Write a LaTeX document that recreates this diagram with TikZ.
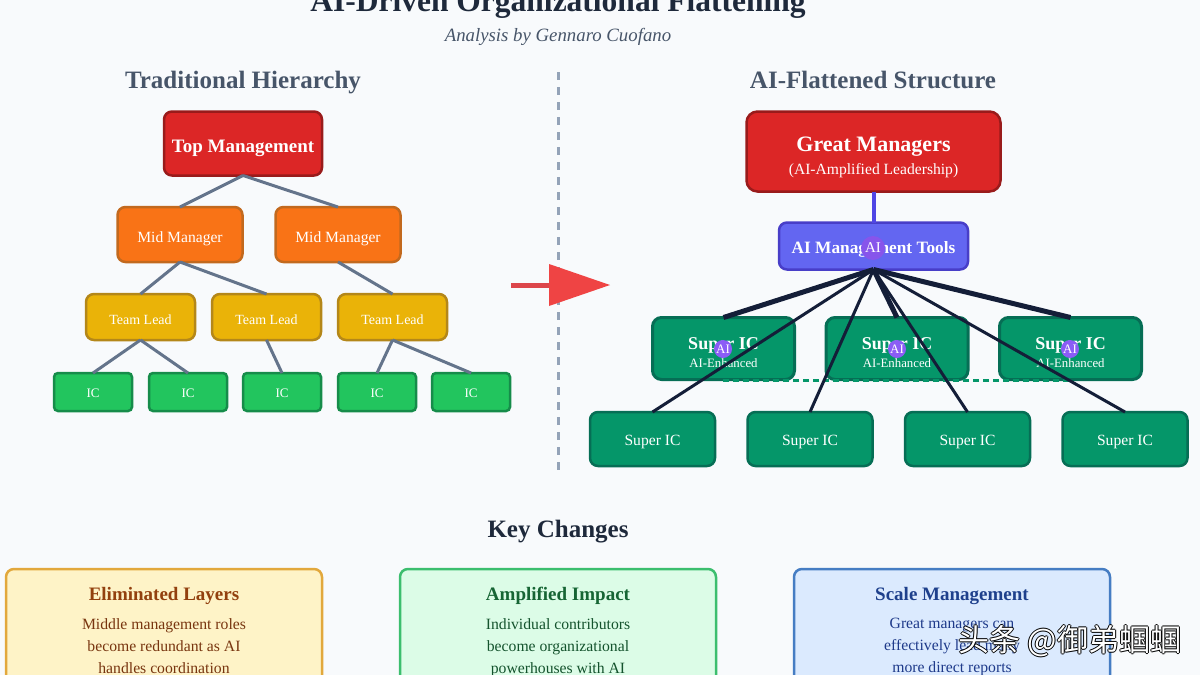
\documentclass[tikz,border=0pt]{standalone}
\usepackage{fontspec}
\setmainfont{Liberation Serif}
\newfontfamily\cjk{Noto Sans CJK SC}
\usetikzlibrary{positioning, shapes.geometric}

\definecolor{pagebg}{HTML}{F8FAFC}
\definecolor{inkdark}{HTML}{1E293B}
\definecolor{inkgray}{HTML}{475569}
\definecolor{linkgray}{HTML}{64748B}
\definecolor{linkdark}{HTML}{141E38}
\newcommand{\pxfont}[1]{\fontsize{#1}{#1}\selectfont}

\begin{document}
\begin{tikzpicture}[
  x=1pt, y=-1pt,
  box/.style={rectangle, draw, rounded corners=8pt, line width=2.5pt, outer sep=0pt, inner sep=0pt, align=center, text=white},
  topbox/.style={box, fill={rgb,255:red,220;green,38;blue,38}, draw={rgb,255:red,153;green,27;blue,27}},
  midbox/.style={box, minimum width=125pt, minimum height=55pt, text height=15pt, text depth=0pt, fill={rgb,255:red,249;green,115;blue,22}, draw={rgb,255:red,194;green,105;blue,30}, font=\pxfont{15.6}},
  leadbox/.style={box, minimum width=109pt, minimum height=46pt, text height=14pt, text depth=0pt, fill={rgb,255:red,234;green,179;blue,8}, draw={rgb,255:red,180;green,135;blue,25}, font=\pxfont{14}},
  icbox/.style={box, rounded corners=4pt, minimum width=78pt, minimum height=38pt, text height=11pt, text depth=0pt, fill={rgb,255:red,34;green,197;blue,94}, draw={rgb,255:red,22;green,140;blue,74}, font=\pxfont{13}},
  superbox/.style={box, rounded corners=9pt, line width=3pt, minimum width=142pt, minimum height=62pt, fill={rgb,255:red,5;green,150;blue,105}, draw={rgb,255:red,6;green,110;blue,85}},
  lowbox/.style={box, minimum width=125pt, minimum height=54pt, text height=13.5pt, text depth=0pt, fill={rgb,255:red,5;green,150;blue,105}, draw={rgb,255:red,6;green,110;blue,85}, font=\pxfont{15.6}},
  card/.style={rectangle, draw, rounded corners=8pt, line width=2.5pt, outer sep=0pt, minimum width=316pt, minimum height=130pt},
  badge/.style={circle, fill={rgb,255:red,139;green,92;blue,246}, minimum size=18pt, inner sep=0pt, text=white, font=\pxfont{13}},
  link/.style={draw=linkgray, line width=3pt},
  wide/.style={draw=linkdark, line width=5pt},
  narrow/.style={draw=linkdark, line width=3pt},
  heading/.style={text=inkgray, anchor=base, font=\pxfont{25}\bfseries},
  cardhead/.style={anchor=base, font=\pxfont{19}\bfseries},
  cardbody/.style={font=\pxfont{15.7}, align=center, anchor=north}
]
  \clip (0,0) rectangle (1200,675);
  \fill[pagebg] (0,0) rectangle (1200,675);

  % title block
  \node[text=inkdark, anchor=base, font=\pxfont{31.5}\bfseries] (title) at (558,11) {AI-Driven Organizational Flattening};
  \node[text=inkgray, anchor=base, font=\pxfont{18.8}\itshape] (subtitle) at (558,41) {Analysis by Gennaro Cuofano};
  \node[heading] (lefthead) at (243,88) {Traditional Hierarchy};
  \node[heading] (righthead) at (873,88) {AI-Flattened Structure};

  % divider and arrow
  \coordinate (divtop) at (558,72);
  \coordinate (divbot) at (558,475);
  \draw[draw={rgb,255:red,148;green,163;blue,184}, line width=3pt, dash pattern=on 8pt off 7pt] (divtop) -- (divbot);
  \coordinate (arrowtail) at (511,285);
  \coordinate (arrowbase) at (550,285);
  \draw[draw={rgb,255:red,220;green,70;blue,75}, line width=5pt] (arrowtail) -- (arrowbase);
  \fill[fill={rgb,255:red,239;green,68;blue,68}] (549,264) -- (610,285) -- (549,306) -- cycle;

  % traditional side
  \node[topbox, minimum width=158pt, minimum height=64pt, text height=17pt, text depth=0pt, font=\pxfont{19}\bfseries] (top) at (243,143.5) {Top Management};
  \foreach \name/\xpos in {midA/180, midB/338}
    \node[midbox] (\name) at (\xpos,234.5) {Mid Manager};
  \foreach \name/\xpos in {leadA/140.5, leadB/266.5, leadC/392.5}
    \node[leadbox] (\name) at (\xpos,317) {Team Lead};
  \foreach \name/\xpos in {icA/93, icB/188, icC/282, icD/377, icE/471}
    \node[icbox] (\name) at (\xpos,392) {IC};
  \foreach \from/\to in {top/midA, top/midB, midA/leadA, midA/leadB, midB/leadC,
                         leadA/icA, leadA/icB, leadB/icC, leadC/icD, leadC/icE}
    \draw[link] (\from.south) -- (\to.north);

  % flattened side
  \node[topbox, rounded corners=11pt, minimum width=254pt, minimum height=80pt] (great) at (873.5,151.5)
    {\pxfont{22}\bfseries\rule{0pt}{27pt}Great Managers\\[6pt]\pxfont{15.6}(AI-Amplified Leadership)};
  \node[box, minimum width=189pt, minimum height=47pt, text height=14.5pt, text depth=0pt, fill={rgb,255:red,99;green,102;blue,241}, draw={rgb,255:red,72;green,62;blue,200}, font=\pxfont{17.3}\bfseries] (tools) at (873.5,246) {AI Management Tools};
  \draw[draw={rgb,255:red,79;green,70;blue,229}, line width=4pt] (great.south) -- (tools.north);
  \foreach \name/\xpos in {supA/723.5, supB/897, supC/1070.5}
    \node[superbox] (\name) at (\xpos,348.5)
      {\pxfont{18}\bfseries\rule{0pt}{20pt}Super IC\\[4pt]\pxfont{12.8}AI-Enhanced};
  \foreach \name/\xpos in {lowA/652.5, lowB/810, lowC/967.5, lowD/1125}
    \node[lowbox] (\name) at (\xpos,439) {Super IC};
  \coordinate (peerleft) at (723,380);
  \coordinate (peerright) at (1070,380);
  \draw[draw={rgb,255:red,5;green,150;blue,105}, line width=3pt, dash pattern=on 6pt off 4pt] (peerleft) -- (peerright);
  \foreach \to in {supA, supB, supC}
    \draw[wide] (tools.south) -- (\to.north);
  \foreach \to in {lowA, lowB, lowC, lowD}
    \draw[narrow] (tools.south) -- (\to.north);
  \node[badge, minimum size=24pt, fill={rgb,255:red,135;green,85;blue,235}, font=\pxfont{15}] (badgeT) at (873,248) {AI};
  \node[badge] (badgeA) at (723,349) {AI};
  \node[badge] (badgeB) at (897,349) {AI};
  \node[badge] (badgeC) at (1070,349) {AI};

  % key changes
  \node[text=inkdark, anchor=base, font=\pxfont{25}\bfseries] (keyhead) at (558,537.5) {Key Changes};
  \node[card, fill={rgb,255:red,254;green,243;blue,199}, draw={rgb,255:red,226;green,168;blue,60}, anchor=north west] (cardA) at (6,569) {};
  \node[card, fill={rgb,255:red,220;green,252;blue,231}, draw={rgb,255:red,60;green,190;blue,110}, anchor=north west] (cardB) at (400,569) {};
  \node[card, fill={rgb,255:red,219;green,234;blue,254}, draw={rgb,255:red,70;green,125;blue,195}, anchor=north west] (cardC) at (794,569) {};
  \node[cardhead, text={rgb,255:red,146;green,64;blue,14}] (cardAhead) at (164,600) {Eliminated Layers};
  \node[cardhead, text={rgb,255:red,22;green,101;blue,52}] (cardBhead) at (558,600) {Amplified Impact};
  \node[cardhead, text={rgb,255:red,30;green,64;blue,140}] (cardChead) at (952,600) {Scale Management};
  \node[cardbody, text={rgb,255:red,120;green,53;blue,15}] (cardAtext) at (164,615)
    {Middle management roles\\[6.3pt]become redundant as AI\\[6.3pt]handles coordination};
  \node[cardbody, text={rgb,255:red,20;green,83;blue,45}] (cardBtext) at (558,615)
    {Individual contributors\\[6.3pt]become organizational\\[6.3pt]powerhouses with AI};
  \node[cardbody, text={rgb,255:red,30;green,58;blue,138}] (cardCtext) at (952,615)
    {Great managers can\\[6.3pt]effectively lead many\\[6.3pt]more direct reports};

  % watermark
  \foreach \i/\dx/\dy in {1/-1/0, 2/1/0, 3/0/-1, 4/0/1}
    \node[text=black, font=\pxfont{31}\cjk] (markshadow\i) at (1070+\dx,641+\dy) {头条 @御弟蝈蝈};
  \node[text=white, font=\pxfont{31}\cjk] (mark) at (1070,641) {头条 @御弟蝈蝈};
\end{tikzpicture}
\end{document}
